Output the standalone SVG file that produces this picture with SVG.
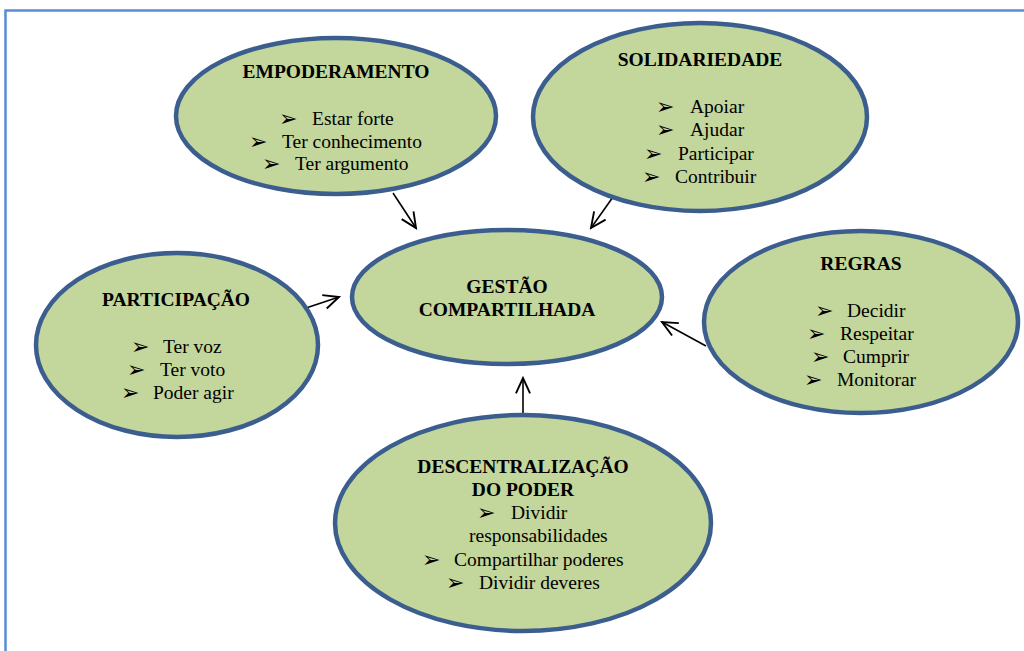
<svg xmlns="http://www.w3.org/2000/svg" width="1024" height="651" viewBox="0 0 1024 651">
<defs>
<style>
.n{fill:#c3d69b;stroke:#3b5e8f;stroke-width:4.5}
.h{font-family:'Liberation Serif','Times New Roman','DejaVu Serif',serif;font-weight:bold;font-size:19.5px;fill:#000;text-anchor:middle}
.t{font-family:'Liberation Serif','Times New Roman','DejaVu Serif',serif;font-size:19.5px;fill:#000}
.b{font-family:'DejaVu Sans',sans-serif;font-size:22px;fill:#000}
.c{fill:none;stroke:#000;stroke-width:1.6}
</style>
<marker id="ar" markerUnits="userSpaceOnUse" markerWidth="20" markerHeight="20" viewBox="-15 -8 17 16" refX="0" refY="0" orient="auto">
<path d="M-13,-6 L0,0 L-13,6" fill="none" stroke="#000" stroke-width="1.6"/>
</marker>
</defs>
<rect x="0" y="0" width="1024" height="651" fill="#fff"/>
<rect id="frame" x="5.5" y="10.5" width="1100" height="700" fill="none" stroke="#5b8cd2" stroke-width="2.5"/>
<g id="connectors">
<line class="c" x1="393" y1="193" x2="416" y2="228" marker-end="url(#ar)"/>
<line class="c" x1="613" y1="197" x2="591" y2="228" marker-end="url(#ar)"/>
<line class="c" x1="303" y1="309" x2="339" y2="297" marker-end="url(#ar)"/>
<line class="c" x1="706" y1="346" x2="662" y2="322" marker-end="url(#ar)"/>
<line class="c" x1="523" y1="416" x2="523" y2="378" marker-end="url(#ar)"/>
</g>
<g id="empoderamento">
<ellipse class="n" cx="336" cy="116" rx="160" ry="78"/>
<text class="h" x="336" y="78">EMPODERAMENTO</text>
<text class="b" x="279" y="126">➢</text><text class="t" x="312" y="125">Estar forte</text>
<text class="b" x="249" y="149">➢</text><text class="t" x="282" y="148">Ter conhecimento</text>
<text class="b" x="262" y="171">➢</text><text class="t" x="295" y="170">Ter argumento</text>
</g>
<g id="solidariedade">
<ellipse class="n" cx="700" cy="117" rx="167" ry="94"/>
<text class="h" x="700" y="66">SOLIDARIEDADE</text>
<text class="b" x="656" y="114">➢</text><text class="t" x="690" y="113">Apoiar</text>
<text class="b" x="656" y="137">➢</text><text class="t" x="690" y="136">Ajudar</text>
<text class="b" x="644" y="161">➢</text><text class="t" x="678" y="160">Participar</text>
<text class="b" x="642" y="184">➢</text><text class="t" x="675" y="183">Contribuir</text>
</g>
<g id="participacao">
<ellipse class="n" cx="177" cy="345" rx="141" ry="92"/>
<text class="h" x="176" y="306">PARTICIPAÇÃO</text>
<text class="b" x="131" y="354">➢</text><text class="t" x="163" y="353">Ter voz</text>
<text class="b" x="127" y="377">➢</text><text class="t" x="160" y="376">Ter voto</text>
<text class="b" x="121" y="400">➢</text><text class="t" x="153" y="399">Poder agir</text>
</g>
<g id="regras">
<ellipse class="n" cx="861" cy="322" rx="157" ry="91"/>
<text class="h" x="861" y="270">REGRAS</text>
<text class="b" x="815" y="318">➢</text><text class="t" x="847" y="317">Decidir</text>
<text class="b" x="807" y="341">➢</text><text class="t" x="840" y="340">Respeitar</text>
<text class="b" x="811" y="364">➢</text><text class="t" x="843" y="363">Cumprir</text>
<text class="b" x="804" y="387">➢</text><text class="t" x="837" y="386">Monitorar</text>
</g>
<g id="descentralizacao">
<ellipse class="n" cx="523" cy="523" rx="188" ry="108"/>
<text class="h" x="523" y="473">DESCENTRALIZAÇÃO</text>
<text class="h" x="523" y="496">DO PODER</text>
<text class="b" x="477" y="520">➢</text><text class="t" x="511" y="519">Dividir</text>
<text class="t" x="469" y="542">responsabilidades</text>
<text class="b" x="422" y="567">➢</text><text class="t" x="454" y="566">Compartilhar poderes</text>
<text class="b" x="446" y="590">➢</text><text class="t" x="479" y="589">Dividir deveres</text>
</g>
<g id="gestao">
<ellipse class="n" cx="507" cy="297" rx="155" ry="67"/>
<text class="h" x="507" y="293">GESTÃO</text>
<text class="h" x="507" y="316">COMPARTILHADA</text>
</g>
</svg>
